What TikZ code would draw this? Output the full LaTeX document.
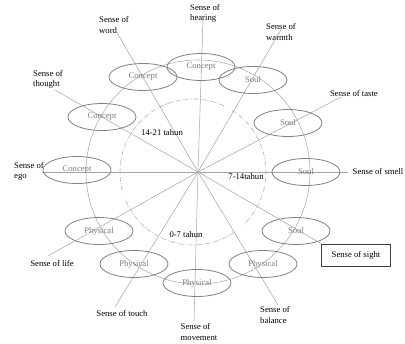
\documentclass[tikz,border=0pt]{standalone}
\usepackage{fontspec}
\setmainfont{Liberation Serif}
\usepackage{tikz}
\usetikzlibrary{shapes.geometric}
\definecolor{spokegray}{RGB}{165,165,165}
\definecolor{ringgray}{RGB}{175,175,175}
\definecolor{ellgray}{RGB}{130,130,130}
\definecolor{textgray}{RGB}{125,125,125}

\begin{document}
\begin{tikzpicture}[x=0.03cm, y=-0.03cm, font=\fontsize{7.4}{8.6}\selectfont]
\tikzstyle{stage}=[ellipse, draw=ellgray, line width=0.7pt, minimum width=2.04cm, minimum height=0.81cm, inner sep=0pt, text=textgray]
\tikzstyle{sense}=[align=left, inner sep=0pt]
\tikzstyle{spoke}=[draw=spokegray, line width=0.45pt]
\tikzstyle{period}=[draw=ringgray, line width=0.5pt, dash pattern=on 4pt off 1.5pt on 0.6pt off 1.5pt]
\useasboundingbox (0,0) rectangle (405,343);
\coordinate (O) at (198,172);
\coordinate (D) at (193,172);

% circles
\draw[draw=ringgray, line width=0.5pt] (O) circle [radius=112];
\draw[period] (D) ++(-65:73) arc[start angle=-65, end angle=-197, radius=73];
\draw[period] (D) ++(-58:73) arc[start angle=-58, end angle=47, radius=73];
\draw[period] (D) ++(157:73) arc[start angle=157, end angle=53, radius=73];

% senses
\node[sense] (lword) at (114,25) {Sense of\\word};
\node[sense] (lhear) at (205,13) {Sense of\\hearing};
\node[sense] (lwarm) at (281,32) {Sense of\\warmth};
\node[sense] (ltaste) at (354,93) {Sense of taste};
\node[sense] (lsmell) at (378,171) {Sense of smell};
\node[draw=black!75, line width=0.6pt, minimum width=2.07cm, minimum height=0.66cm, inner sep=0pt] (lsight) at (356,255) {Sense of sight};
\node[sense] (lbal) at (275,315) {Sense of\\balance};
\node[sense] (lmove) at (199,332) {Sense of\\movement};
\node[sense] (ltouch) at (122,313) {Sense of touch};
\node[sense] (llife) at (52,263) {Sense of life};
\node[sense] (lego) at (29,171) {Sense of\\ego};
\node[sense] (lthought) at (48,79) {Sense of\\thought};

% spoke ends
\coordinate (eword) at (116,31);
\coordinate (ehear) at (203,20);
\coordinate (ewarm) at (282,28);
\coordinate (etaste) at (341,97);
\coordinate (esmell) at (348,172);
\coordinate (ebal) at (278,305);
\coordinate (emove) at (194,321);
\coordinate (etouch) at (115,307);
\coordinate (elife) at (48,256);
\coordinate (eego) at (42,172);
\coordinate (ethought) at (55,90);

\draw[spoke] (O) -- (eword);
\draw[spoke] (O) -- (ehear);
\draw[spoke] (O) -- (ewarm);
\draw[spoke] (O) -- (etaste);
\draw[spoke] (O) -- (esmell);
\draw[spoke] (O) -- (lsight.north west);
\draw[spoke] (O) -- (ebal);
\draw[spoke] (O) -- (emove);
\draw[spoke] (O) -- (etouch);
\draw[spoke] (O) -- (elife);
\draw[spoke] (O) -- (eego);
\draw[spoke] (O) -- (ethought);

% stages
\node[stage] (cword) at (143,77) {Concept};
\node[stage] (chear) at (201,67) {Concept};
\node[stage] (swarm) at (253,80) {Soul};
\node[stage] (staste) at (288,123) {Soul};
\node[stage] (ssmell) at (306,172) {Soul};
\node[stage] (ssight) at (296,231) {Soul};
\node[stage] (pbal) at (263,264) {Physical};
\node[stage] (pmove) at (197,283) {Physical};
\node[stage] (ptouch) at (134,264) {Physical};
\node[stage] (plife) at (99,231) {Physical};
\node[stage] (cego) at (77,170) {Concept};
\node[stage] (cthought) at (102,117) {Concept};

% ages
\node (t1421) at (162,133) {14-21 tahun};
\node (t0714) at (246,177) {7-14tahun};
\node (t0007) at (186,235) {0-7 tahun};
\end{tikzpicture}
\end{document}
